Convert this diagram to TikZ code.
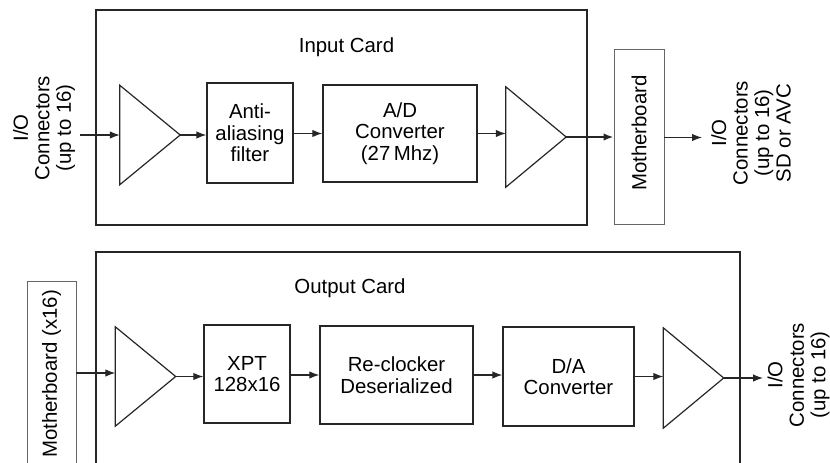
\documentclass[tikz,border=0pt]{standalone}
\usepackage{fontspec}
\setmainfont{Liberation Sans}
\usetikzlibrary{arrows.meta}
\begin{document}
\begin{tikzpicture}[x=1pt,y=-1pt,
  txt/.style={font=\fontsize{20.4}{21.5}\selectfont, align=center, inner sep=0pt},
  card/.style={draw=black!85, line width=1.8pt, minimum width=#1, inner sep=0pt},
  blk/.style={draw=black!85, line width=1.4pt, txt},
  mboard/.style={draw=black!60, line width=0.9pt, txt},
  ampbox/.style={minimum width=60pt, minimum height=99pt, inner sep=0pt},
  amptri/.style={draw=black!85, line width=1.2pt},
  arr/.style={-{Latex[length=10pt,width=7.5pt]}, line width=1.2pt, black!85},
  vtxt/.style={txt, rotate=90},
]
\useasboundingbox (0,0) rectangle (830,463);
\clip (0,0) rectangle (830,463);
% ---------- Input card ----------
\node[card=491pt, minimum height=215pt] (incard) at (341.5,117.5) {};
\node[txt] (inlbl) at (346.5,47) {Input Card};
\node[vtxt] (inio) at (44,128) {I/O\\Connectors\\(up to 16)};
\coordinate (inL) at (80,135);
\node[ampbox] (amp1) at (150,135) {};
\draw[amptri] (amp1.north west) -- (amp1.east) -- (amp1.south west) -- cycle;
\node[blk, minimum width=86pt, minimum height=100pt] (aaf) at (250,133) {Anti-\\aliasing\\filter};
\node[blk, minimum width=154pt, minimum height=97pt] (adc) at (400,133.5) {A/D\\Converter\\(27\,Mhz)};
\node[ampbox, minimum height=100pt] (amp2) at (536,137) {};
\draw[amptri] (amp2.north west) -- (amp2.east) -- (amp2.south west) -- cycle;
\node[mboard, minimum width=50pt, minimum height=175pt] (mb1) at (639,136.5) {};
\node[vtxt] (mb1lbl) at (639,133) {Motherboard};
\coordinate (outR1) at (702,137.5);
\node[vtxt] (outio1) at (751,133) {I/O\\Connectors\\(up to 16)\\SD or AVC};
\draw[arr] (inL) -- (amp1.west);
\draw[arr] (amp1.east) -- (amp1.east -| aaf.west);
\draw[arr] (aaf.east |- adc.west) -- (adc.west);
\draw[arr] (adc.east) -- (adc.east -| amp2.west);
\draw[arr, line width=2pt] (amp2.east) -- (amp2.east -| mb1.west);
\draw[arr] (mb1.east |- outR1) -- (outR1);
% ---------- Output card ----------
\node[card=644pt, minimum height=240pt] (outcard) at (418,372) {};
\node[txt] (outlbl) at (350,288) {Output Card};
\node[mboard, minimum width=49pt, minimum height=200pt] (mb2) at (51.5,381) {};
\node[vtxt] (mb2lbl) at (51.5,374) {Motherboard (x16)};
\node[ampbox] (amp3) at (145.5,376.5) {};
\draw[amptri] (amp3.north west) -- (amp3.east) -- (amp3.south west) -- cycle;
\node[blk, minimum width=86pt, minimum height=98pt] (xpt) at (247,374) {XPT\\128x16};
\node[blk, minimum width=153pt, minimum height=98pt] (rc) at (396.5,375) {Re-clocker\\Deserialized};
\node[blk, minimum width=131pt, minimum height=99pt] (dac) at (568.5,376.5) {D/A\\Converter};
\node[ampbox, minimum height=100pt] (amp4) at (693.5,378) {};
\draw[amptri] (amp4.north west) -- (amp4.east) -- (amp4.south west) -- cycle;
\coordinate (outR2) at (763,378);
\node[vtxt] (outio2) at (798.5,375) {I/O\\Connectors\\(up to 16)};
\draw[arr] (mb2.east |- 0,373) -- (amp3.west |- 0,373);
\draw[arr] (amp3.east) -- (amp3.east -| xpt.west);
\draw[arr] (xpt.east |- rc.west) -- (rc.west);
\draw[arr] (rc.east) -- (rc.east -| dac.west);
\draw[arr] (dac.east) -- (dac.east -| amp4.west);
\draw[arr] (amp4.east) -- (outR2);
\end{tikzpicture}
\end{document}
